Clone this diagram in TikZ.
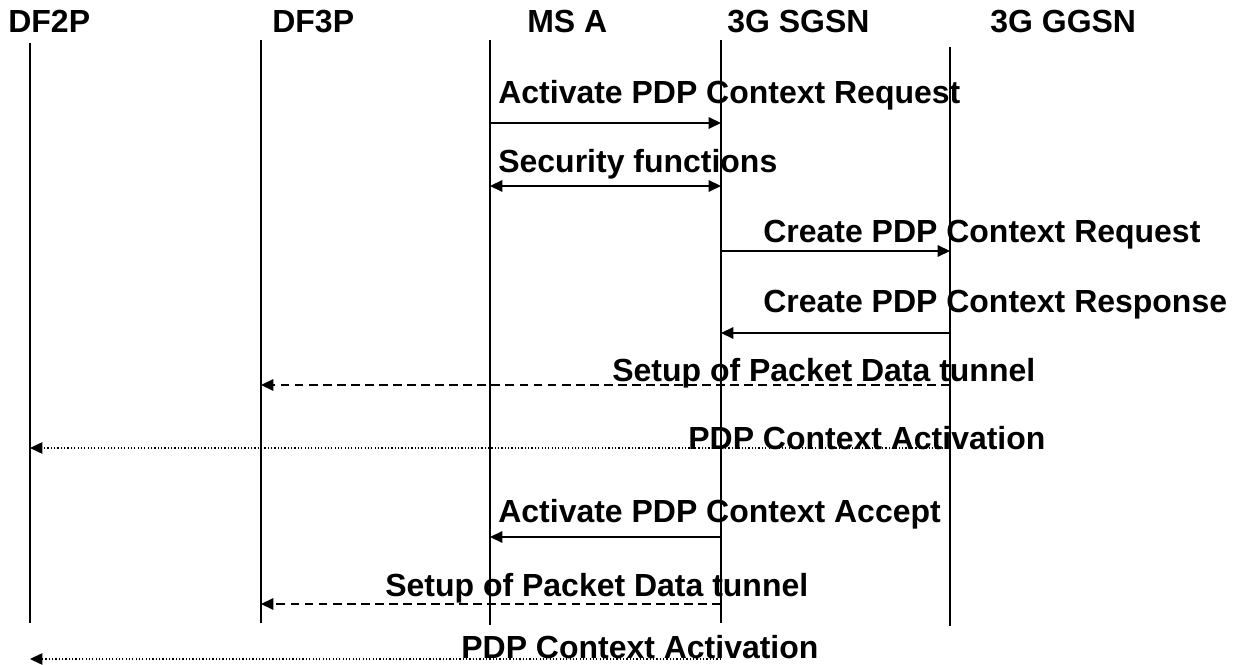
\documentclass[tikz,border=0pt]{standalone}
\usepackage{fontspec}
\setmainfont{Liberation Sans}
\usepackage{tikz}
\usetikzlibrary{arrows.meta}

\begin{document}
\begin{tikzpicture}[x=0.02cm, y=-0.02cm,
    every node/.style={font=\fontsize{18.2}{21}\selectfont\bfseries, inner sep=0pt, anchor=base west},
    life/.style={line width=0.85pt},
    msg/.style={line width=0.85pt, -{Triangle[length=7pt, width=6.5pt]}},
    both/.style={line width=0.85pt, {Triangle[length=7pt, width=6.5pt]}-{Triangle[length=7pt, width=6.5pt]}},
    tunnel/.style={msg, dash pattern=on 5pt off 3pt},
    report/.style={msg, line width=0.6pt, dash pattern=on 0.7pt off 1.2pt}]
    \useasboundingbox (0,0) rectangle (1235,665);

    % Define the lifelines
    \node (hdf2p) at (8,33) {DF2P};
    \node (hdf3p) at (272,33) {DF3P};
    \node (hms) at (527,33) {MS A};
    \node (hsgsn) at (727,33) {3G SGSN};
    \node (hggsn) at (990,33) {3G GGSN};

    \coordinate (df2p) at (30,43);   \coordinate (df2pend) at (30,623);
    \coordinate (df3p) at (261,40);  \coordinate (df3pend) at (261,623);
    \coordinate (ms) at (490,40);    \coordinate (msend) at (490,625);
    \coordinate (sgsn) at (721,40);  \coordinate (sgsnend) at (721,623);
    \coordinate (ggsn) at (950,47);  \coordinate (ggsnend) at (950,626);

    \draw[life] (df2p) -- (df2pend);
    \draw[life] (df3p) -- (df3pend);
    \draw[life] (ms) -- (msend);
    \draw[life] (sgsn) -- (sgsnend);
    \draw[life] (ggsn) -- (ggsnend);

    % Heights of the messages
    \coordinate (y1) at (0,123);
    \coordinate (y2) at (0,186);
    \coordinate (y3) at (0,251);
    \coordinate (y4) at (0,333);
    \coordinate (y5) at (0,385);
    \coordinate (y6) at (0,448);
    \coordinate (y7) at (0,537);
    \coordinate (y8) at (0,604);
    \coordinate (y9) at (0,659);

    % Draw the messages
    \draw[msg] (ms |- y1) -- (sgsn |- y1);
    \draw[both] (ms |- y2) -- (sgsn |- y2);
    \draw[msg] (sgsn |- y3) -- (ggsn |- y3);
    \draw[msg] (ggsn |- y4) -- (sgsn |- y4);
    \draw[tunnel] (ggsn |- y5) -- (df3p |- y5);
    \draw[report] (ggsn |- y6) -- (df2p |- y6);
    \draw[msg] (sgsn |- y7) -- (ms |- y7);
    \draw[tunnel] (sgsn |- y8) -- (df3p |- y8);
    \draw[report] (sgsn |- y9) -- (df2p |- y9);

    % Message labels
    \node (m1) at (498,104) {Activate PDP Context Request};
    \node (m2) at (498,173) {Security functions};
    \node (m3) at (763,243) {Create PDP Context Request};
    \node (m4) at (763,313) {Create PDP Context Response};
    \node (m5) at (612,382) {Setup of Packet Data tunnel};
    \node (m6) at (688,450) {PDP Context Activation};
    \node (m7) at (498,523) {Activate PDP Context Accept};
    \node (m8) at (385,597) {Setup of Packet Data tunnel};
    \node (m9) at (461,659) {PDP Context Activation};

\end{tikzpicture}
\end{document}
